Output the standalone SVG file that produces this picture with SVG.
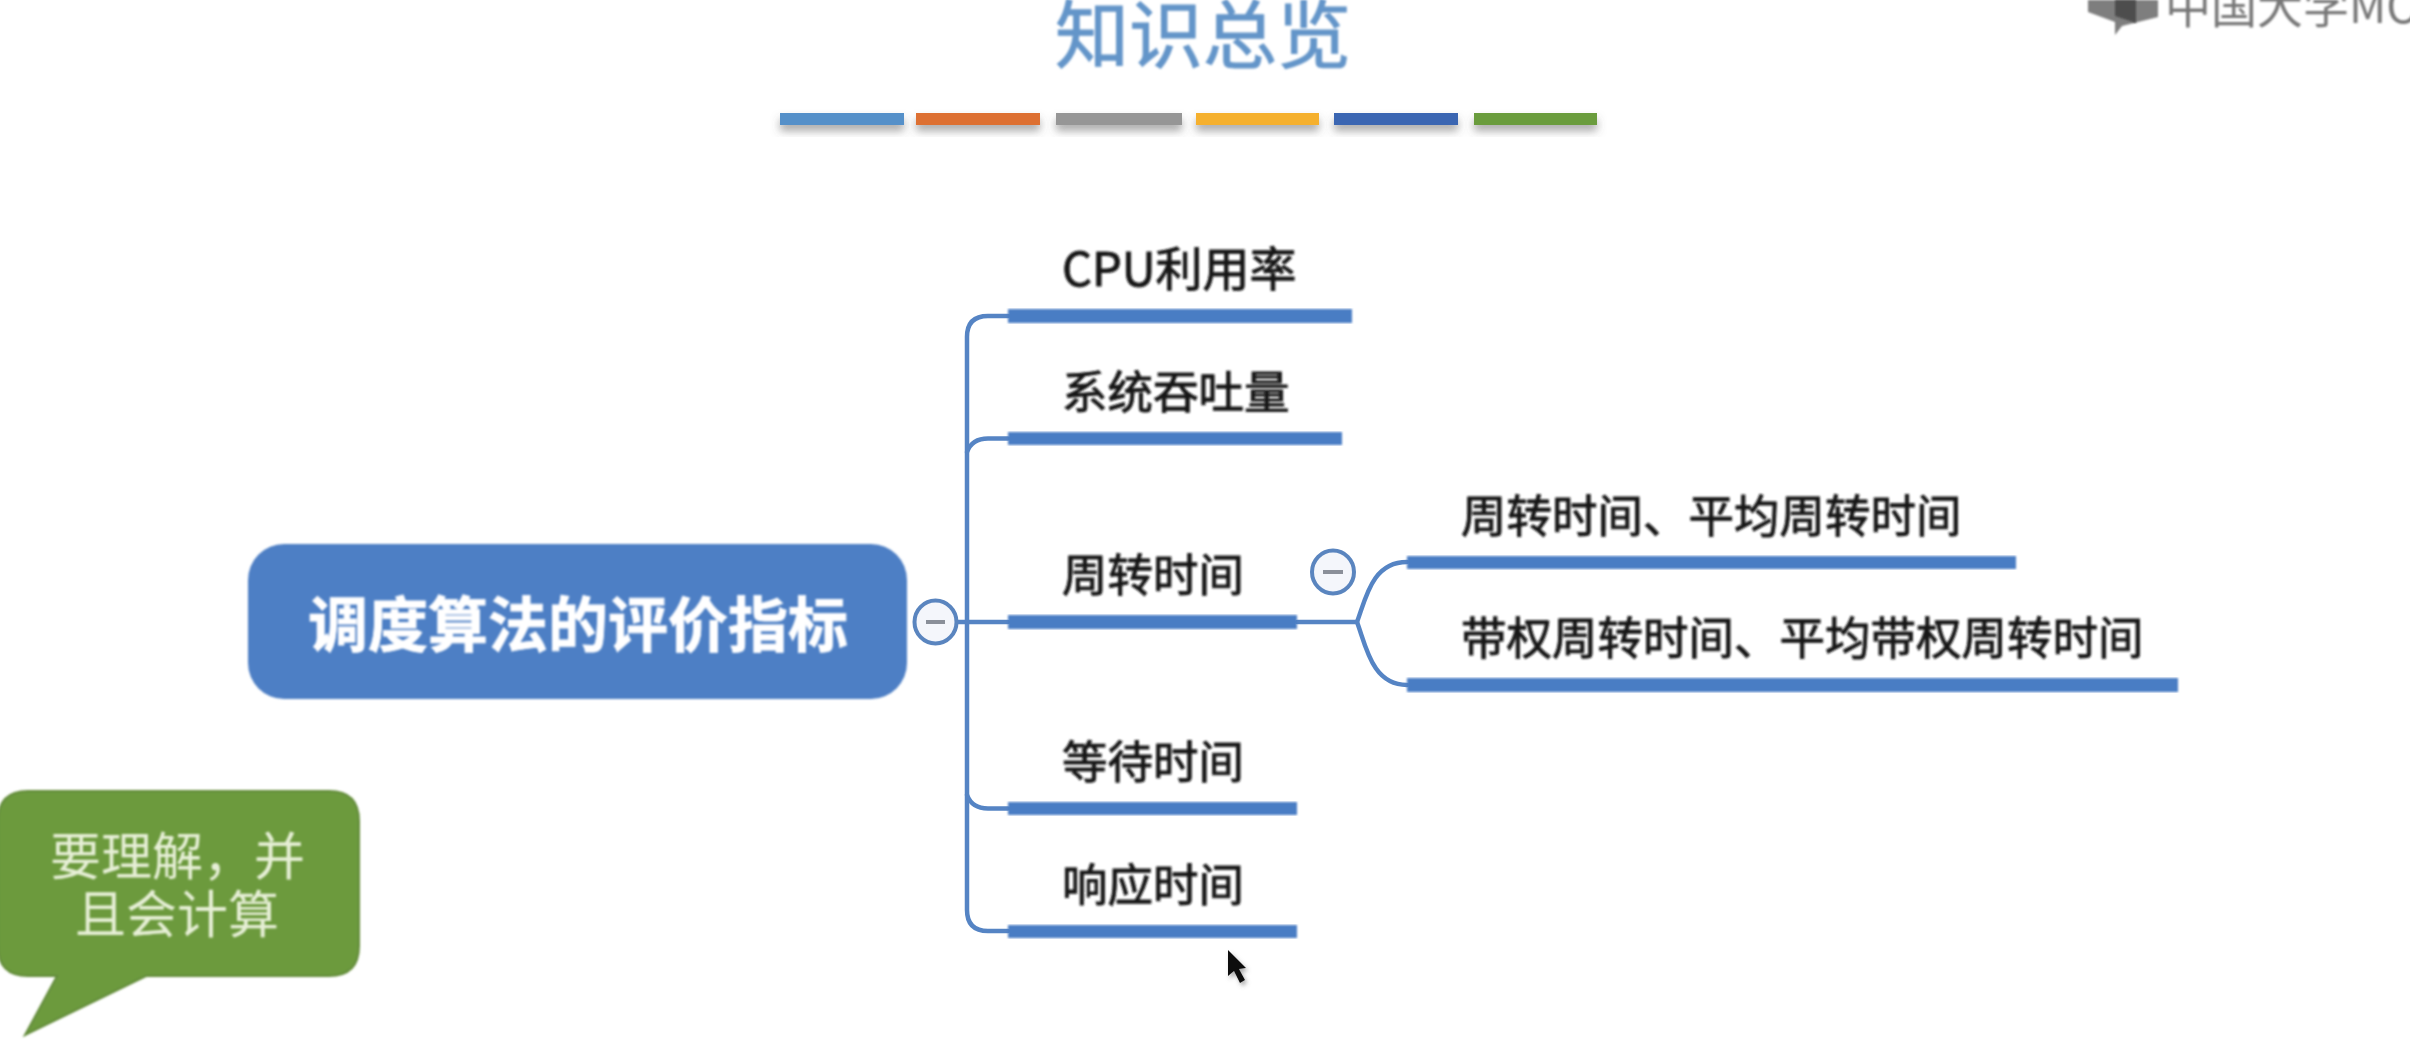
<svg xmlns="http://www.w3.org/2000/svg" width="2410" height="1044" viewBox="0 0 2410 1044">
<defs>
<filter id="soft" x="-5%" y="-5%" width="110%" height="110%"><feGaussianBlur stdDeviation="0.8"/></filter>
<filter id="shadow" x="-10%" y="-50%" width="120%" height="250%"><feGaussianBlur stdDeviation="0.6" result="b"/><feDropShadow in="b" dx="0" dy="6" stdDeviation="4" flood-color="#555" flood-opacity="0.5"/></filter>
<filter id="cursorShadow" x="-50%" y="-50%" width="200%" height="200%"><feDropShadow dx="2" dy="3" stdDeviation="2" flood-color="#555" flood-opacity="0.5"/></filter>
</defs>
<style>
text{font-family:"Noto Sans CJK SC","Liberation Sans",sans-serif;filter:url(#soft)}
.label{font-size:45.500px;fill:#151515;stroke:#151515;stroke-width:0.900}
.wire{fill:none;stroke:#5584c4;stroke-width:4.500;stroke-linecap:round}
.bar{fill:#4a7dc4;filter:url(#soft)}
.swatch{filter:url(#shadow)}
.toggle{fill:#f4f6fb;stroke:#5a85bf;stroke-width:4}
.minus{fill:#8a8f99}
.note{font-family:"Liberation Serif","Noto Sans CJK SC",serif;font-size:51px;fill:#e6efd6}
</style>
<rect width="2410" height="1044" fill="#ffffff"/>

<g id="logo">
<polygon points="2088,0 2158,0 2158,17 2122,26 2115,35 2115,22 2088,12" fill="#7e7e7e" filter="url(#soft)"/>
<polygon points="2115,0 2136,0 2136,23 2115,16" fill="#4e4e4e" filter="url(#soft)"/>
<text x="2165" y="23" font-size="46" fill="#777777">中国大学MO</text>
</g>

<g id="title">
<text x="1203" y="62" text-anchor="middle" font-size="74" fill="#6495c9" stroke="#6495c9" stroke-width="1">知识总览</text>
<rect class="swatch" x="780" y="113" width="124" height="12" fill="#5490c9"/>
<rect class="swatch" x="916" y="113" width="124" height="12" fill="#dd6f33"/>
<rect class="swatch" x="1056" y="113" width="126" height="12" fill="#969696"/>
<rect class="swatch" x="1196" y="113" width="123" height="12" fill="#f5b02e"/>
<rect class="swatch" x="1334" y="113" width="124" height="12" fill="#3a66b2"/>
<rect class="swatch" x="1474" y="113" width="123" height="12" fill="#6b9c3c"/>
</g>

<g id="connectors">
<path class="wire" d="M958 622H1008"/>
<path class="wire" d="M1008 316H988Q967 316 967 337V910Q967 931 988 931H1008"/>
<path class="wire" d="M1008 438.500H988Q972 438.500 967 452"/>
<path class="wire" d="M1008 808.500H988Q972 808.500 967 795"/>
<path class="wire" d="M1297 622H1357"/>
<path class="wire" d="M1357 622C1366 598 1372 562 1407 562"/>
<path class="wire" d="M1357 622C1366 646 1372 685 1407 685"/>
</g>

<g id="root">
<rect x="248" y="544" width="659" height="155" rx="36" ry="36" fill="#4d7fc5" filter="url(#soft)"/>
<text x="578" y="647" text-anchor="middle" font-size="60" font-weight="700" fill="#ffffff" stroke="#ffffff" stroke-width="0.800">调度算法的评价指标</text>
<ellipse class="toggle" cx="935.500" cy="622" rx="21" ry="21.500"/>
<rect class="minus" x="926" y="620" width="19" height="4"/>
</g>

<g id="node-cpu">
<text class="label" x="1062" y="286" font-size="47" style="font-size:47px">CPU利用率</text>
<rect class="bar" x="1008" y="309" width="344" height="14"/>
</g>
<g id="node-throughput">
<text class="label" x="1062" y="409">系统吞吐量</text>
<rect class="bar" x="1008" y="432" width="334" height="13"/>
</g>
<g id="node-turnaround">
<text class="label" x="1062" y="592">周转时间</text>
<rect class="bar" x="1008" y="615" width="289" height="14"/>
<ellipse class="toggle" cx="1333" cy="572" rx="21" ry="21.500"/>
<rect class="minus" x="1323" y="570" width="20" height="4"/>
</g>
<g id="node-waiting">
<text class="label" x="1062" y="779">等待时间</text>
<rect class="bar" x="1008" y="802" width="289" height="13"/>
</g>
<g id="node-response">
<text class="label" x="1062" y="902">响应时间</text>
<rect class="bar" x="1008" y="925" width="289" height="13"/>
</g>
<g id="node-avg-turnaround">
<text class="label" x="1461" y="533">周转时间、平均周转时间</text>
<rect class="bar" x="1407" y="556" width="609" height="13"/>
</g>
<g id="node-weighted">
<text class="label" x="1461" y="655">带权周转时间、平均带权周转时间</text>
<rect class="bar" x="1407" y="678" width="771" height="14"/>
</g>

<g id="callout">
<path d="M28 791H329Q359 791 359 821V946Q359 976 329 976H146L25 1035L57 976H28Q-2 976 -2 946V821Q-2 791 28 791Z" fill="#6c9a3e" stroke="#648c3b" stroke-width="2" filter="url(#soft)"/>
<text class="note" x="50" y="875">要理解，并</text>
<text class="note" x="75" y="933">且会计算</text>
</g>

<g id="cursor">
<polygon points="1228,950 1228,976 1234,971 1240,983 1245,980 1239,969 1246,968" fill="#111111" filter="url(#cursorShadow)"/>
</g>
</svg>
